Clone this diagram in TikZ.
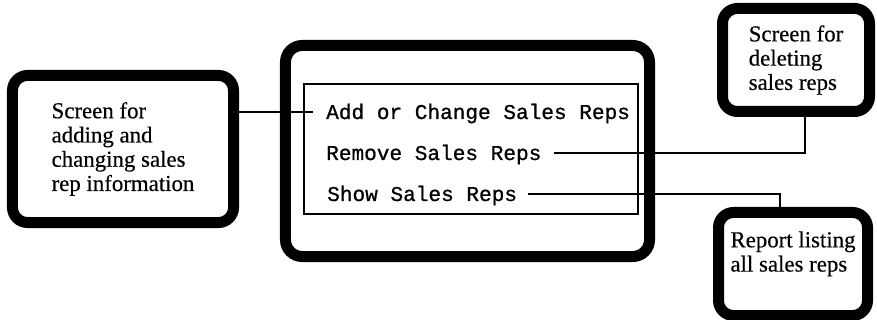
\documentclass[tikz,border=0pt]{standalone}
\usepackage{fontspec}
\setmainfont{Liberation Serif}[FakeBold=0.4]
\setmonofont{Liberation Mono}[FakeBold=0.9]
\tikzset{
  screenbox/.style={draw, line width=0.33cm, rounded corners=0.45cm, align=left,
    font=\fontsize{19.5}{20.7}\selectfont},
  menuitem/.style={inner sep=0pt, anchor=base west, font=\ttfamily\fontsize{18}{20}\selectfont},
  link/.style={line width=0.055cm}
}
\begin{document}
\begin{tikzpicture}[x=0.03cm, y=-0.03cm]
  \useasboundingbox (0,0) rectangle (877,320);

  \node[screenbox, minimum width=6.63cm, minimum height=4.41cm] (addscr) at (123,149)
    {Screen for\\adding and\\changing sales\\rep information};
  \node[screenbox, minimum width=4.41cm, minimum height=3.09cm] (delscr) at (796,60)
    {Screen for\\deleting\\sales reps};
  \node[screenbox, minimum width=4.47cm, minimum height=3.09cm, text depth=0.75cm] (report) at (793,264)
    {Report listing\\all sales reps};

  \node[draw, line width=0.33cm, rounded corners=0.5cm, minimum width=10.92cm,
    minimum height=6.33cm] (menu) at (467.5,151) {};
  \node[draw, line width=0.05cm, minimum width=10.02cm, minimum height=3.9cm]
    (menulist) at (471,149) {};

  \node[menuitem] (itemadd) at (326,119) {Add or Change Sales Reps};
  \node[menuitem] (itemremove) at (326,160) {Remove Sales Reps};
  \node[menuitem] (itemshow) at (327,201) {Show Sales Reps};

  \draw[link] ([yshift=0.12cm]addscr.east |- itemadd.mid west) -- ([xshift=-0.39cm,yshift=0.12cm]itemadd.mid west);
  \draw[link] ([xshift=0.36cm,yshift=0.12cm]itemremove.mid east) -| ([xshift=0.27cm]delscr.south);
  \draw[link] ([xshift=0.33cm,yshift=0.12cm]itemshow.mid east) -| ([xshift=-0.39cm]report.north);
\end{tikzpicture}
\end{document}
